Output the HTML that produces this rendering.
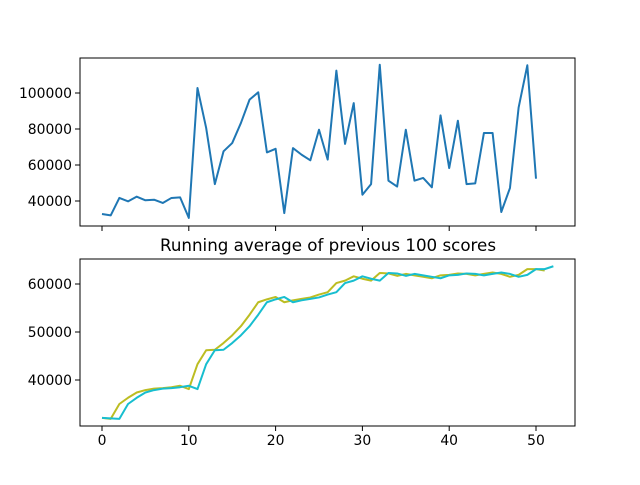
<!DOCTYPE html>
<html><head><meta charset="utf-8"><style>
body{margin:0;background:#fff;}
svg text{font-family:"DejaVu Sans","Liberation Sans",sans-serif;}
</style></head><body>
<svg id="c" width="640" height="480" xmlns="http://www.w3.org/2000/svg"></svg>
<script>
const scores=[32800,32000,41700,39800,42400,40400,40700,38900,41700,42000,30600,102800,80600,49400,67600,72200,83300,96300,100400,67000,69000,33300,69400,65700,62600,79600,63000,112400,71700,94400,43500,49400,115700,51300,48000,79600,51300,52800,47600,87600,58300,84600,49400,49800,77800,77800,33900,47200,92000,115400,52400];
const avgA=[32100,31900,35000,36300,37400,37900,38200,38300,38500,38800,38100,43300,46200,46300,47700,49300,51200,53600,56200,56800,57300,56200,56600,56900,57200,57800,58300,60200,60700,61600,61100,60700,62300,62200,61700,62100,61800,61500,61200,61800,61900,62200,62100,61800,62100,62400,62100,61500,61900,63100,63100,62800];
const avgB=[32100,32000,31900,35000,36300,37400,37900,38200,38300,38500,38800,38100,43300,46200,46300,47700,49300,51200,53600,56200,56800,57300,56200,56600,56900,57200,57800,58300,60200,60700,61600,61100,60700,62300,62200,61700,62100,61800,61500,61200,61800,61900,62200,62100,61800,62100,62400,62100,61500,61900,63100,63100,63700];
const xTicks=[0,10,20,30,40,50];
const topYTicks=[40000,60000,80000,100000];
const botYTicks=[40000,50000,60000];
const NS="http://www.w3.org/2000/svg";
const svg=document.getElementById('c');
function mk(t,a,p){const e=document.createElementNS(NS,t);for(const k in a)e.setAttribute(k,a[k]);(p||svg).appendChild(e);return e;}
const X=v=>102+v*8.68;
const Yt=v=>201-(v-40000)*0.0018;
const Yb=v=>380-(v-40000)*0.0048;
function axes(top,bot,yf,yt,labels,name){
  const g=mk('g',{});
  
  
  mk('rect',{x:80,y:top,width:495,height:bot-top,fill:'none',stroke:'#000','stroke-width':1},g);
  xTicks.forEach(t=>{mk('line',{x1:X(t),x2:X(t),y1:bot,y2:bot+5,stroke:'#000'},g);
    if(labels){const tx=mk('text',{x:X(t),y:bot+19,'font-size':13.9,'text-anchor':'middle'},g);tx.textContent=t;
      
      }});
  yt.forEach(t=>{const y=yf(t);mk('line',{x1:75,x2:80,y1:y,y2:y,stroke:'#000'},g);
    const tx=mk('text',{x:72,y:y+5,'font-size':13.9,'text-anchor':'end'},g);tx.textContent=t;
    
    });
}
axes(58,226,Yt,topYTicks,false,'top-axes');
axes(259,426,Yb,botYTicks,true,'bottom-axes');
function line(arr,yf,col,name){
  const p=mk('polyline',{points:arr.map((v,i)=>X(i)+','+yf(v)).join(' '),fill:'none',stroke:col,'stroke-width':2,'stroke-linejoin':'round'});
  
  
}
line(scores,Yt,'#1f77b4','scores-line');
line(avgA,Yb,'#bcbd22','running-average-line-a');
line(avgB,Yb,'#17becf','running-average-line-b');
const t=mk('text',{x:328,y:251,'font-size':16.7,'text-anchor':'middle'});
t.textContent='Running average of previous 100 scores';


</script>
</body></html>
